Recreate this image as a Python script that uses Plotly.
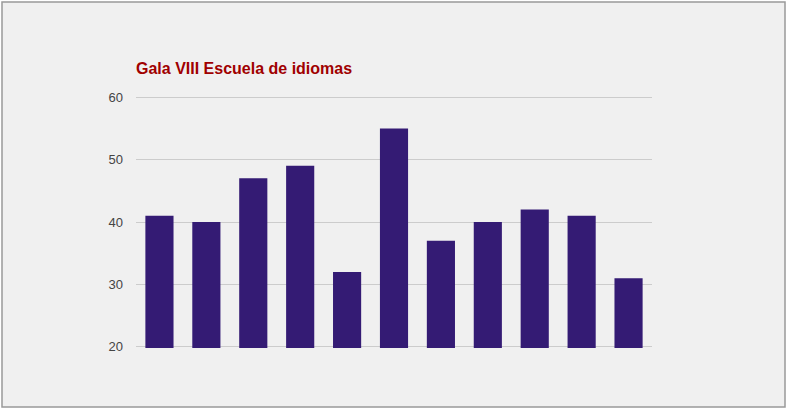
import plotly.graph_objects as go

# datos del grafico
categorias = ["1", "2", "3", "4", "5", "6", "7", "8", "9", "10", "11"]
valores = [41, 40, 47, 49, 32, 55, 37, 40, 42, 41, 31]
ticks_y = [20, 30, 40, 50, 60]

W, H = 788, 411
left, right, top, bottom = 136, 652, 96, 348
pw, ph = right - left, bottom - top

def px(x):
    return (x - left) / pw

def py(y):
    return (bottom - y) / ph

barras = go.Bar(
    x=categorias,
    y=valores,
    marker=dict(color="#341b74", line=dict(width=0)),
)

layout = go.Layout(
    width=W,
    height=H,
    margin=dict(l=left, r=W - right, t=top, b=H - bottom, pad=0),
    paper_bgcolor="white",
    plot_bgcolor="rgba(0,0,0,0)",
    bargap=0.4,
    showlegend=False,
    title=dict(
        text="<b>Gala VIII Escuela de idiomas</b>",
        font=dict(family="Arial, Liberation Sans", size=16, color="#a00000"),
        x=px(136),
        xref="paper",
        xanchor="left",
        y=1 - 68 / H,
        yanchor="middle",
    ),
    xaxis=dict(
        showticklabels=False,
        showgrid=False,
        zeroline=False,
        showline=False,
        ticks="",
    ),
    yaxis=dict(
        range=[19.8, 60.2],
        tickvals=ticks_y,
        showgrid=True,
        gridcolor="#cccccc",
        gridwidth=1,
        zeroline=False,
        showline=False,
        ticks="",
        ticklabelstandoff=12,
        tickfont=dict(family="Arial, Liberation Sans", size=13, color="#444444"),
    ),
    shapes=[
        dict(
            type="rect",
            xref="paper",
            yref="paper",
            x0=px(2),
            x1=px(785),
            y0=py(407),
            y1=py(2),
            fillcolor="#f0f0f0",
            line=dict(color="#999999", width=1.5),
            layer="below",
        )
    ],
)

fig = go.Figure(data=[barras], layout=layout)
fig.write_html(
    "out.html",
    config={"displayModeBar": False},
    post_script="document.body.style.margin='0';",
)
